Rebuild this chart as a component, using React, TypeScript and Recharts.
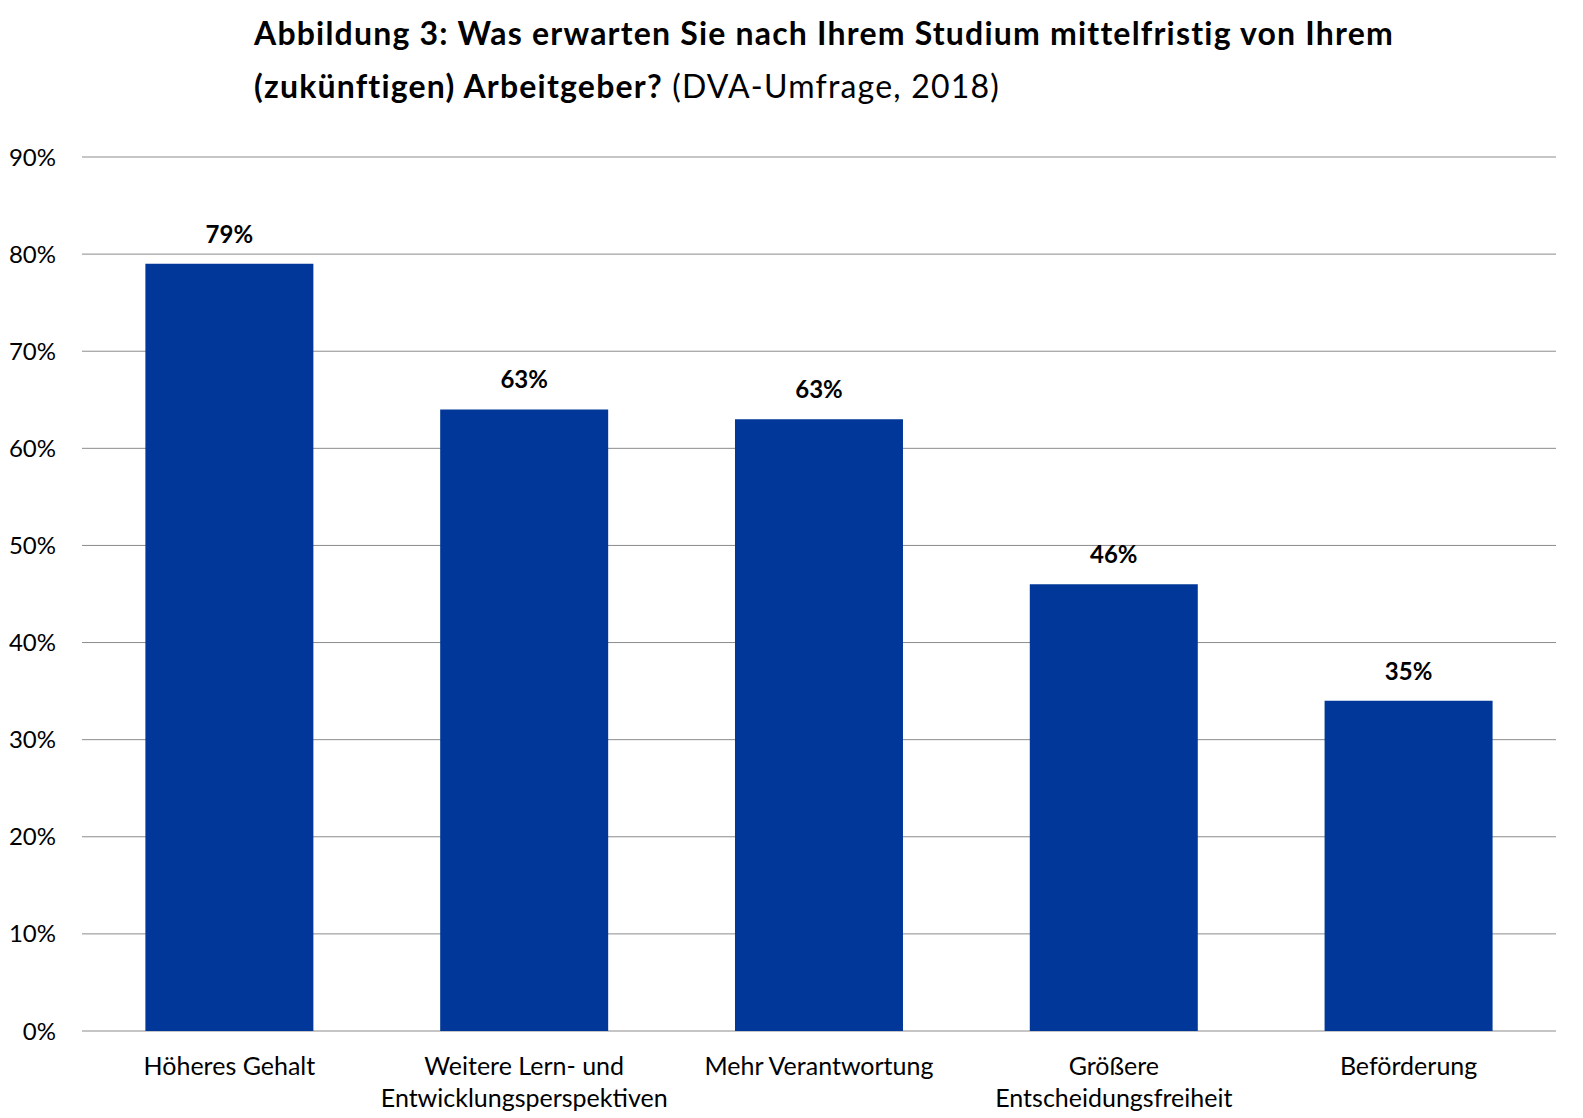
import React from "react";
import {
  BarChart,
  Bar,
  XAxis,
  YAxis,
  CartesianGrid,
  LabelList,
} from "recharts";

const categories = [
  "Höheres Gehalt",
  "Weitere Lern- und\nEntwicklungsperspektiven",
  "Mehr Verantwortung",
  "Größere\nEntscheidungsfreiheit",
  "Beförderung",
];
const values = [79, 64, 63, 46, 34];
const valueLabels = ["79%", "63%", "63%", "46%", "35%"];
const yTicks = [0, 10, 20, 30, 40, 50, 60, 70, 80, 90];

const data = categories.map((name, i) => ({
  name,
  value: values[i],
  label: valueLabels[i],
}));

const FONT = "Lato, 'Open Sans', sans-serif";

function CategoryTick(props: any) {
  const { x, y, payload } = props;
  const lines = String(payload.value).split("\n");
  return (
    <text
      x={x}
      y={y}
      textAnchor="middle"
      fontFamily={FONT}
      fontSize={25}
      fill="#000"
    >
      {lines.map((line, i) => (
        <tspan key={i} x={x} dy={i === 0 ? 44 : 32}>
          {line}
        </tspan>
      ))}
    </text>
  );
}

export default function App() {
  return (
    <div
      style={{
        position: "absolute",
        left: 0,
        top: 0,
        width: 1583,
        height: 1118,
        background: "#fff",
        fontFamily: FONT,
      }}
    >
      <div
        style={{
          position: "absolute",
          left: 254,
          top: 6,
          fontSize: 32,
          letterSpacing: 1.2,
          lineHeight: "53px",
          color: "#000",
          whiteSpace: "nowrap",
        }}
      >
        <div style={{ fontWeight: 700 }}>
          Abbildung 3: Was erwarten Sie nach Ihrem Studium mittelfristig von Ihrem
        </div>
        <div>
          <span style={{ fontWeight: 700 }}>(zukünftigen) Arbeitgeber?</span>{" "}
          <span style={{ fontWeight: 400 }}>(DVA-Umfrage, 2018)</span>
        </div>
      </div>

      <div style={{ position: "absolute", left: 0, top: 0 }}>
        <BarChart
          width={1583}
          height={1118}
          data={data}
          margin={{ top: 157, right: 27, bottom: 0, left: 0 }}
          barCategoryGap="21.5%"
        >
          <CartesianGrid vertical={false} stroke="#8c8c8c" strokeWidth={1} />
          <XAxis
            dataKey="name"
            axisLine={false}
            tickLine={false}
            tickSize={0}
            tickMargin={0}
            interval={0}
            height={87}
            tick={<CategoryTick />}
          />
          <YAxis
            width={82}
            domain={[0, 90]}
            ticks={yTicks}
            axisLine={false}
            tickLine={false}
            tickSize={0}
            tickMargin={26}
            tickFormatter={(v: number) => `${v}%`}
            tick={{ fontSize: 24, fill: "#000", fontFamily: FONT }}
          />
          <Bar dataKey="value" fill="#003798" isAnimationActive={false}>
            <LabelList
              dataKey="label"
              position="top"
              offset={21}
              style={{
                fontSize: 24,
                fontWeight: 700,
                fill: "#000",
                fontFamily: FONT,
              }}
            />
          </Bar>
        </BarChart>
      </div>
    </div>
  );
}
